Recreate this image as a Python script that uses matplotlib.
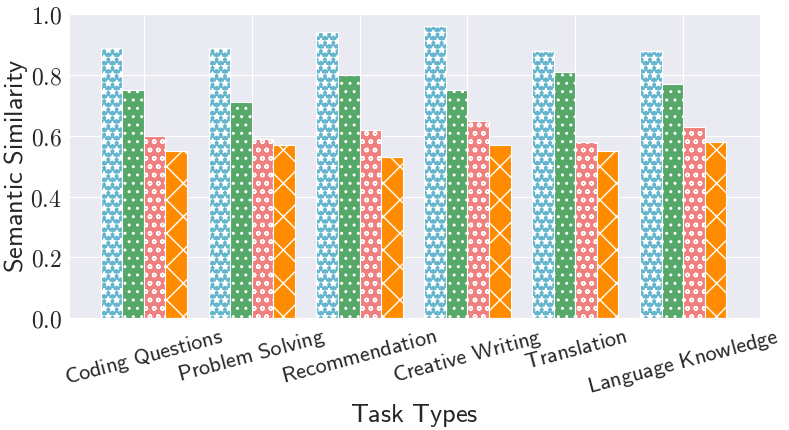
import numpy as np
import matplotlib
matplotlib.use("Agg")
import matplotlib.pyplot as plt
import seaborn as sns

# Datos
tasks = ["Coding Questions", "Problem Solving", "Recommendation",
         "Creative Writing", "Translation", "Language Knowledge"]
series_a = [0.89, 0.89, 0.94, 0.96, 0.88, 0.88]
series_b = [0.75, 0.71, 0.80, 0.75, 0.81, 0.77]
series_c = [0.60, 0.59, 0.62, 0.65, 0.58, 0.63]
series_d = [0.55, 0.57, 0.53, 0.57, 0.55, 0.58]

colors = ["#64b5cd", "#55a868", "#f08080", "#ff8c00"]
hatches = ["**", "..", "oo", "x"]

sns.set_style("darkgrid")
plt.rcParams["mathtext.fontset"] = "cm"
plt.rcParams["hatch.color"] = "white"
plt.rcParams["hatch.linewidth"] = 1.0

fig, ax = plt.subplots(figsize=(7.89, 4.30), dpi=100)

x = np.arange(len(tasks))
width = 0.2
for k, vals in enumerate([series_a, series_b, series_c, series_d]):
    ax.bar(x + (k - 1.5) * width, vals, width, color=colors[k],
           hatch=hatches[k], edgecolor="white", linewidth=0.8)

ax.set_ylim(0, 1.0)
ax.set_xlim(-0.69, 5.71)
ax.set_yticks(np.arange(0, 1.01, 0.2))
ax.set_yticklabels([f"${v:.1f}$" for v in np.arange(0, 1.01, 0.2)], fontsize=17)
ax.set_xticks(x)
ax.set_xticklabels([r"$\mathsf{" + t.replace(" ", r"\ ") + "}$" for t in tasks],
                   rotation=15, ha="center", fontsize=16)
ax.tick_params(axis="both", pad=2)
ax.set_xlabel(r"$\mathsf{Task\ Types}$", fontsize=19, labelpad=2)
ax.set_ylabel(r"$\mathsf{Semantic\ Similarity}$", fontsize=19, labelpad=0)

fig.subplots_adjust(left=0.088, right=0.963, top=0.967, bottom=0.26)
fig.savefig("out.png", dpi=100)
